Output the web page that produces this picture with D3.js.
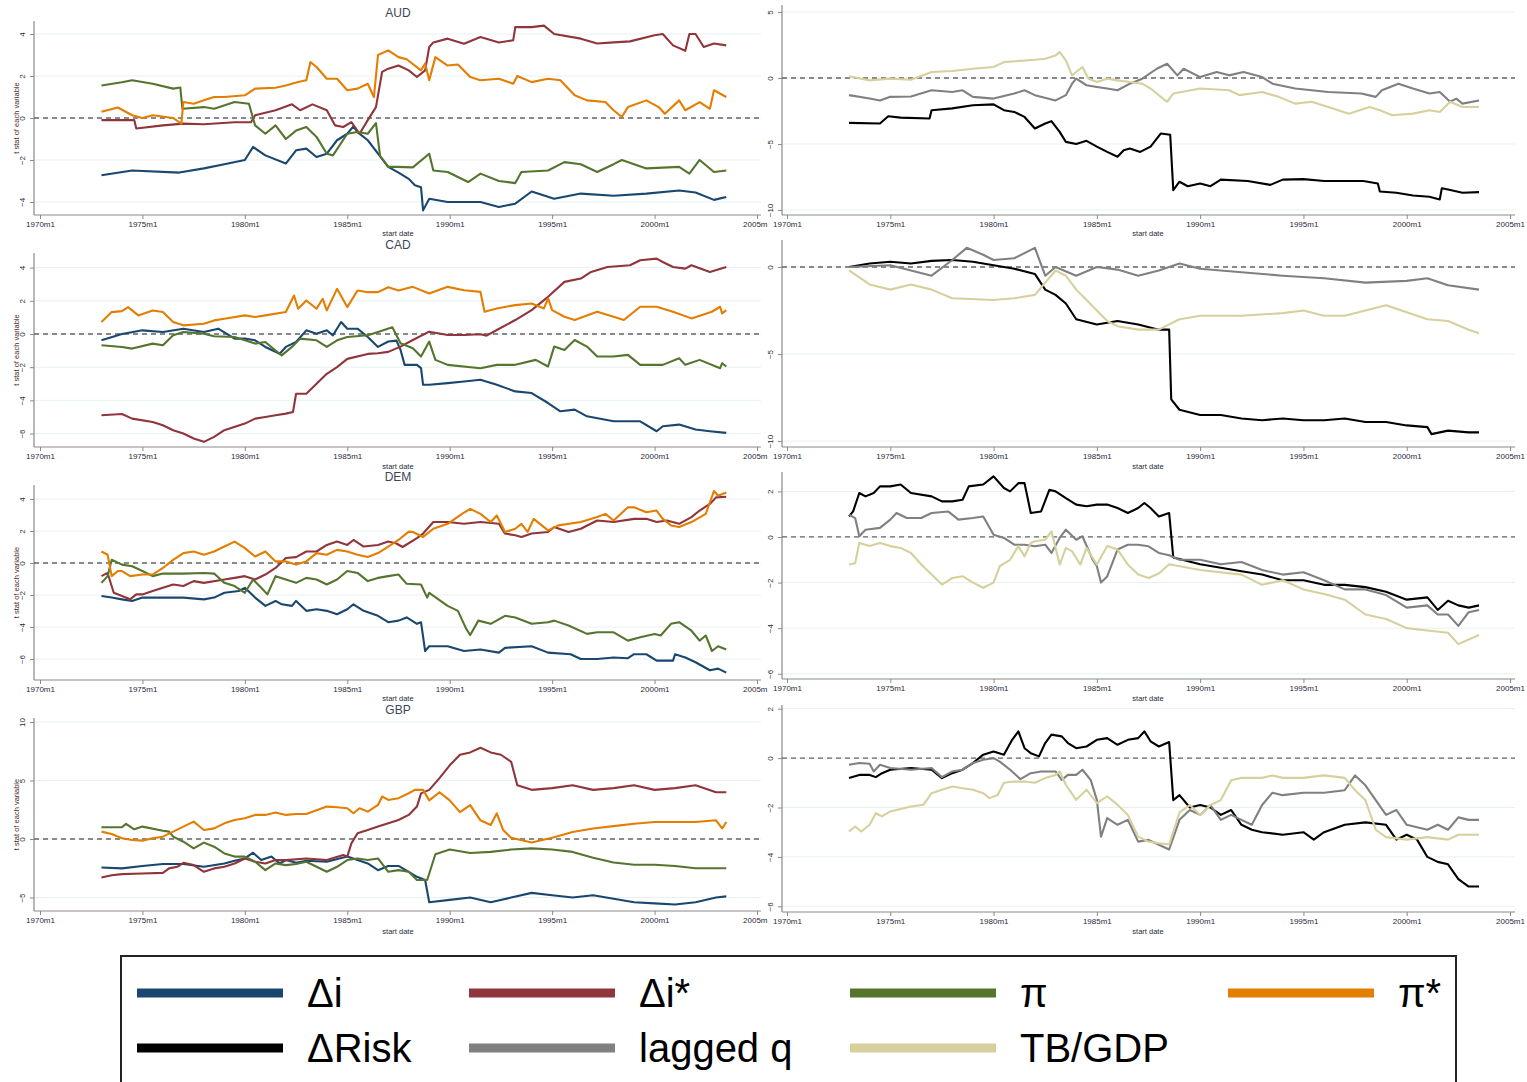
<!DOCTYPE html>
<html>
<head>
<meta charset="utf-8">
<script src="https://cdn.jsdelivr.net/npm/d3@7"></script>
<style>
  html, body { margin: 0; padding: 0; background: #fff; }
  svg { display: block; font-family: "Liberation Sans", Arial, sans-serif; }
</style>
</head>
<body>
<svg id="chart" width="1527" height="1082"></svg>
<script>
// ---------- tick labels ----------
const xTickYears = [1970, 1975, 1980, 1985, 1990, 1995, 2000, 2005];
const xTickLabels = ["1970m1", "1975m1", "1980m1", "1985m1", "1990m1", "1995m1", "2000m1", "2005m1"];
const currencies = ["AUD", "CAD", "DEM", "GBP"];
const leftTicks = { AUD: [-4, -2, 0, 2, 4], CAD: [-6, -4, -2, 0, 2, 4], DEM: [-6, -4, -2, 0, 2, 4], GBP: [-5, 0, 5, 10] };
const rightTicks = { AUD: [-10, -5, 0, 5], CAD: [-10, -5, 0], DEM: [-6, -4, -2, 0, 2], GBP: [-6, -4, -2, 0, 2] };

// ---------- series: [start date (decimal year), t statistic] ----------
// AUD
const audDi = [[1973,-2.73],[1974.5,-2.5],[1976.8,-2.6],[1978,-2.4],[1979,-2.2],[1980,-2.0],[1980.4,-1.38],[1981,-1.78],[1982,-2.17],[1982.5,-1.54],[1983,-1.46],[1983.5,-1.86],[1984,-1.7],[1984.5,-1.06],[1985,-0.75],[1985.3,-0.4],[1985.5,-0.67],[1986,-1.06],[1986.5,-1.7],[1987,-2.33],[1987.5,-2.6],[1988,-2.9],[1988.3,-3.2],[1988.6,-3.3],[1988.7,-4.4],[1989,-3.85],[1989.9,-4.0],[1991.5,-4.0],[1992.4,-4.24],[1993.2,-4.08],[1994,-3.5],[1995.1,-3.85],[1996.4,-3.6],[1998,-3.7],[1999.6,-3.6],[2001.2,-3.45],[2002,-3.55],[2002.9,-3.9],[2003.5,-3.76]];
const audDiStar = [[1973,-0.1],[1974.6,-0.1],[1974.7,-0.5],[1976,-0.35],[1977,-0.27],[1978,-0.3],[1979.5,-0.2],[1980.3,-0.2],[1980.5,0.13],[1981.5,0.37],[1982.3,0.65],[1982.7,0.37],[1983.3,0.65],[1984,0.37],[1984.4,-0.35],[1984.8,-0.43],[1985.2,-0.2],[1985.6,-0.75],[1986,-0.1],[1986.4,0.52],[1986.7,2.2],[1987,2.35],[1987.5,2.5],[1988,2.27],[1988.4,1.95],[1988.8,2.27],[1989,3.38],[1989.2,3.6],[1989.9,3.78],[1990.7,3.54],[1991.5,3.86],[1992.4,3.6],[1993.1,3.7],[1993.2,4.33],[1994,4.33],[1994.6,4.4],[1995.1,4.0],[1996.4,3.78],[1997.2,3.55],[1998,3.6],[1998.8,3.65],[2000,3.94],[2000.4,4.0],[2000.9,3.46],[2001.5,3.2],[2001.7,4.0],[2002,4.0],[2002.4,3.38],[2002.9,3.55],[2003.5,3.46]];
const audPi = [[1973,1.55],[1974,1.7],[1974.5,1.8],[1975.5,1.63],[1976.5,1.4],[1976.85,1.45],[1976.95,0.44],[1978,0.52],[1978.5,0.44],[1979.5,0.76],[1980.2,0.68],[1980.5,-0.35],[1981,-0.75],[1981.5,-0.35],[1982,-1.0],[1982.5,-0.6],[1983,-0.43],[1983.5,-0.9],[1984,-1.7],[1984.3,-1.78],[1985,-0.75],[1985.5,-0.67],[1986,-0.75],[1986.4,-0.24],[1986.6,-1.8],[1987,-2.33],[1987.4,-2.33],[1988.2,-2.35],[1989,-1.7],[1989.2,-2.5],[1989.9,-2.57],[1990.9,-3.05],[1991.5,-2.65],[1992.4,-3.0],[1993.2,-3.1],[1993.5,-2.57],[1994.8,-2.5],[1995.6,-2.1],[1996.4,-2.2],[1997.2,-2.57],[1998,-2.2],[1998.4,-2.0],[1999.6,-2.4],[2001.2,-2.33],[2001.7,-2.65],[2002.2,-2.0],[2002.9,-2.57],[2003.5,-2.5]];
const audPiStar = [[1973,0.3],[1973.8,0.5],[1974.5,0.13],[1975,0.0],[1975.5,0.13],[1976.5,0.0],[1976.9,-0.27],[1977,0.76],[1977.5,0.68],[1978,0.84],[1978.5,1.0],[1979,1.0],[1980,1.08],[1980.5,1.4],[1981.5,1.44],[1982,1.55],[1982.6,1.71],[1983,1.8],[1983.2,2.67],[1983.5,2.43],[1984,1.87],[1984.5,1.87],[1985,1.32],[1985.5,1.4],[1986,1.63],[1986.3,1.0],[1986.5,3.0],[1987,3.22],[1987.5,2.9],[1987.9,2.8],[1988.6,2.27],[1988.8,2.6],[1989,1.8],[1989.3,2.9],[1989.9,2.5],[1990.4,2.55],[1991,1.95],[1991.5,1.8],[1992.4,1.87],[1993.1,1.63],[1993.3,2.0],[1994,1.71],[1994.8,1.87],[1995.4,1.8],[1996.1,1.08],[1996.7,0.84],[1997.6,0.76],[1998,0.37],[1998.4,0.05],[1998.7,0.52],[1999.6,0.84],[2000.2,0.52],[2000.5,0.2],[2001.2,0.84],[2001.5,0.37],[2002.2,0.76],[2002.7,0.44],[2002.9,1.32],[2003.5,1.0]];
const audRisk = [[1973,-3.4],[1974.5,-3.45],[1974.9,-2.9],[1975.5,-3.0],[1976.9,-3.07],[1977,-2.44],[1978,-2.3],[1979,-2.07],[1980,-2.0],[1980.5,-2.44],[1981,-2.57],[1981.5,-2.95],[1982,-3.83],[1982.5,-3.45],[1982.8,-3.27],[1983.2,-4.08],[1983.5,-4.84],[1984,-5.0],[1984.5,-4.76],[1985,-5.2],[1985.5,-5.6],[1986,-5.97],[1986.3,-5.47],[1986.6,-5.34],[1987.1,-5.6],[1987.6,-5.2],[1988.1,-4.2],[1988.55,-4.3],[1988.7,-8.5],[1989,-7.86],[1989.4,-8.2],[1990,-8.0],[1990.5,-8.2],[1991,-7.7],[1992.3,-7.8],[1993.4,-8.1],[1994,-7.7],[1995,-7.66],[1996,-7.8],[1997.9,-7.8],[1998.6,-8.0],[1998.7,-8.6],[1999.5,-8.7],[2000.3,-8.9],[2001.1,-9.0],[2001.6,-9.2],[2001.7,-8.35],[2002,-8.45],[2002.7,-8.7],[2003.5,-8.65]];
const audLagQ = [[1973,-1.3],[1974,-1.56],[1974.5,-1.7],[1975,-1.43],[1976,-1.4],[1977,-0.93],[1978,-1.06],[1978.5,-0.93],[1979,-1.43],[1980,-1.56],[1981,-1.18],[1981.5,-0.93],[1982,-1.3],[1983,-1.7],[1983.5,-1.3],[1983.8,-0.43],[1984,-0.05],[1984.5,-0.55],[1985,-0.68],[1985.5,-0.8],[1986,-0.93],[1986.6,-0.43],[1987.2,-0.05],[1987.9,0.7],[1988.4,1.08],[1988.9,0.2],[1989.2,0.7],[1990,0.07],[1990.8,0.45],[1991.4,0.2],[1992.1,0.45],[1993,0.07],[1993.5,-0.43],[1994.6,-0.8],[1996.2,-1.06],[1997.8,-1.18],[1998.5,-1.43],[1998.8,-0.93],[1999.6,-0.43],[2000.3,-0.8],[2001.1,-1.18],[2001.6,-1.06],[2002.1,-1.8],[2002.4,-1.56],[2002.7,-1.94],[2003.5,-1.7]];
const audTbGdp = [[1973,0.13],[1974,-0.18],[1975,-0.05],[1976,-0.13],[1977,0.45],[1978,0.53],[1979,0.7],[1980,0.83],[1980.5,1.2],[1981.5,1.33],[1982,1.38],[1982.5,1.46],[1983,1.71],[1983.2,1.96],[1983.5,1.33],[1983.8,0.2],[1984,0.45],[1984.3,0.83],[1984.6,-0.05],[1985,-0.3],[1985.5,-0.05],[1986,-0.18],[1986.6,-0.3],[1987.2,-0.43],[1987.6,-0.8],[1988.2,-1.56],[1988.4,-1.8],[1988.7,-1.18],[1990,-0.8],[1991.4,-0.93],[1991.9,-1.3],[1993,-1.06],[1993.8,-1.43],[1994.6,-1.94],[1995.4,-1.8],[1996.2,-2.2],[1997.2,-2.7],[1998.2,-2.2],[1998.7,-2.45],[1999.3,-2.82],[2000.3,-2.7],[2001.1,-2.45],[2001.6,-2.57],[2002.1,-1.8],[2002.7,-2.2],[2003.5,-2.2]];

// CAD
const cadDi = [[1973,-0.38],[1974,0],[1975,0.22],[1976,0.12],[1977,0.32],[1978,0.12],[1978.7,0.32],[1979.5,-0.28],[1980,-0.28],[1980.5,-0.38],[1981,-0.78],[1981.7,-1.19],[1982,-0.78],[1982.5,-0.48],[1983,0.22],[1983.5,0.02],[1984,0.22],[1984.3,-0.08],[1984.7,0.72],[1985,0.32],[1985.5,0.32],[1986,-0.18],[1986.5,-0.78],[1987,-0.45],[1987.4,-0.4],[1987.6,-0.96],[1987.8,-1.86],[1988.4,-1.86],[1988.6,-2.06],[1988.7,-3.06],[1989,-3.06],[1989.9,-2.96],[1990.7,-2.86],[1991.5,-2.76],[1992.3,-3.06],[1993.2,-3.46],[1994,-3.56],[1994.8,-4.16],[1995.4,-4.66],[1996.1,-4.56],[1996.7,-4.96],[1998,-5.26],[1999.3,-5.26],[2000.1,-5.86],[2000.4,-5.56],[2001.2,-5.46],[2002,-5.76],[2002.7,-5.86],[2003.5,-5.96]];
const cadDiStar = [[1973,-4.9],[1974,-4.82],[1974.5,-5.1],[1975.5,-5.3],[1976,-5.5],[1976.5,-5.8],[1977,-6.0],[1977.5,-6.3],[1978,-6.5],[1978.5,-6.2],[1979,-5.8],[1980,-5.4],[1980.5,-5.1],[1981,-5.0],[1981.5,-4.9],[1982,-4.8],[1982.35,-4.7],[1982.5,-3.6],[1983,-3.6],[1983.5,-3.0],[1984,-2.4],[1984.5,-2.0],[1985,-1.5],[1986,-1.2],[1986.5,-1.16],[1987,-1.08],[1987.6,-0.76],[1988.2,-0.36],[1989,0.14],[1989.9,-0.06],[1990.7,-0.06],[1991.5,-0.02],[1991.8,-0.1],[1992.3,0.24],[1993.2,0.84],[1994,1.44],[1994.8,2.24],[1995.6,3.14],[1996.4,3.34],[1996.9,3.74],[1997.7,4.04],[1998.8,4.14],[1999.3,4.44],[2000.1,4.54],[2000.4,4.34],[2000.9,4.04],[2001.5,3.94],[2001.8,4.14],[2002.7,3.74],[2003.5,4.04]];
const cadPi = [[1973,-0.68],[1974,-0.78],[1974.5,-0.88],[1975.5,-0.58],[1976,-0.68],[1976.5,-0.08],[1977,0.12],[1978,0.02],[1978.5,-0.14],[1979.5,-0.18],[1980.5,-0.58],[1981,-0.48],[1981.5,-1.0],[1981.8,-1.29],[1982.3,-0.78],[1982.7,-0.28],[1983.5,-0.38],[1984,-0.78],[1984.5,-0.38],[1985,-0.18],[1986,-0.08],[1986.5,0.12],[1987.2,0.4],[1987.6,-0.56],[1988.2,-0.86],[1988.6,-1.36],[1989,-0.46],[1989.3,-1.56],[1989.9,-1.86],[1991.5,-2.06],[1992.3,-1.86],[1993.2,-1.86],[1994.2,-1.56],[1994.8,-1.96],[1995.1,-0.76],[1995.6,-0.96],[1996.1,-0.36],[1996.7,-0.76],[1997.2,-1.36],[1998,-1.36],[1998.7,-1.26],[1999.3,-1.86],[2000.4,-1.86],[2001.2,-1.46],[2001.5,-1.86],[2002.2,-1.56],[2003.2,-2.06],[2003.3,-1.76],[2003.5,-1.96]];
const cadPiStar = [[1973,0.72],[1973.5,1.32],[1974,1.38],[1974.3,1.62],[1974.8,1.12],[1975.5,1.42],[1976,1.32],[1976.5,0.72],[1977,0.52],[1978,0.62],[1978.5,0.82],[1979,0.92],[1980,1.12],[1980.5,1.02],[1981,1.12],[1982,1.32],[1982.4,2.32],[1982.6,1.52],[1983,2.02],[1983.5,1.52],[1983.8,2.12],[1984,1.42],[1984.5,2.72],[1985,1.62],[1985.5,2.62],[1986,2.52],[1986.5,2.52],[1987,2.82],[1987.5,2.62],[1988.2,2.84],[1989,2.44],[1989.9,2.84],[1990.7,2.64],[1991.5,2.54],[1991.7,1.34],[1992.3,1.54],[1993.2,1.74],[1994,1.84],[1994.6,1.54],[1994.8,2.14],[1995,1.44],[1995.6,1.04],[1996.1,0.84],[1997.2,1.34],[1998,1.04],[1998.5,0.84],[1999.3,1.64],[2000.1,1.64],[2000.9,1.34],[2001.8,0.94],[2002.8,1.34],[2003.2,1.64],[2003.3,1.24],[2003.5,1.44]];
const cadRisk = [[1973,0],[1974,0.2],[1975,0.3],[1976,0.2],[1977,0.35],[1978,0.4],[1979,0.3],[1980,0.1],[1981,-0.1],[1982,-0.4],[1982.5,-1.3],[1983,-1.6],[1983.5,-2.1],[1984,-3.0],[1985,-3.3],[1986,-3.1],[1987,-3.3],[1988,-3.6],[1988.5,-3.6],[1988.6,-7.6],[1989,-8.2],[1990,-8.5],[1991,-8.5],[1992,-8.7],[1993,-8.8],[1994,-8.7],[1995,-8.8],[1996,-8.8],[1997,-8.7],[1998,-8.9],[1999,-8.9],[2000,-9.1],[2001,-9.2],[2001.2,-9.6],[2002,-9.4],[2003,-9.5],[2003.5,-9.5]];
const cadLagQ = [[1973,0],[1975,0.1],[1977,-0.5],[1978,0.4],[1978.7,1.1],[1979.5,0.7],[1980,0.4],[1981,0.5],[1982,1.1],[1982.5,-0.5],[1983,0],[1984,-0.5],[1985,0],[1986,-0.15],[1987,-0.5],[1988,-0.2],[1989,0.2],[1990,-0.1],[1992,-0.3],[1994,-0.5],[1996,-0.65],[1998,-0.9],[2000,-0.8],[2001,-0.65],[2002,-1.05],[2003.5,-1.3]];
const cadTbGdp = [[1973,-0.2],[1974,-1.0],[1975,-1.3],[1976,-1.0],[1977,-1.3],[1978,-1.8],[1980,-1.9],[1981,-1.8],[1982,-1.6],[1983,-0.2],[1983.5,-0.5],[1984,-1.3],[1984.5,-1.9],[1985,-2.5],[1985.5,-3.1],[1986,-3.4],[1987,-3.6],[1988,-3.6],[1988.5,-3.3],[1989,-3.0],[1990,-2.8],[1992,-2.8],[1994,-2.65],[1995,-2.5],[1996,-2.8],[1997,-2.8],[1998,-2.5],[1999,-2.2],[2000,-2.6],[2001,-3.0],[2002,-3.1],[2003,-3.6],[2003.5,-3.8]];

// DEM
const demDi = [[1973,-2.06],[1973.5,-2.16],[1974,-2.27],[1974.5,-2.37],[1975,-2.16],[1976,-2.16],[1977,-2.16],[1978,-2.27],[1978.5,-2.16],[1979,-1.86],[1979.7,-1.75],[1980,-1.55],[1980.5,-2.16],[1981,-2.68],[1981.5,-2.37],[1981.8,-2.58],[1982.3,-2.68],[1982.5,-2.37],[1983,-2.99],[1983.5,-2.89],[1984,-2.99],[1984.5,-3.2],[1985,-2.89],[1985.3,-2.58],[1985.8,-2.99],[1986.5,-3.3],[1987,-3.7],[1987.5,-3.6],[1987.9,-3.4],[1988.4,-3.8],[1988.6,-3.7],[1988.8,-5.5],[1989,-5.2],[1989.9,-5.2],[1990.7,-5.5],[1991.5,-5.4],[1992.4,-5.6],[1992.7,-5.3],[1994,-5.2],[1994.8,-5.6],[1995.9,-5.7],[1996.4,-6.0],[1997.2,-6.0],[1998,-5.9],[1998.7,-5.95],[1999,-5.7],[1999.6,-5.7],[2000.1,-6.1],[2000.9,-6.1],[2001,-5.7],[2001.5,-5.9],[2002,-6.2],[2002.7,-6.7],[2003.1,-6.6],[2003.5,-6.85]];
const demDiStar = [[1973,-0.82],[1973.3,-0.62],[1973.6,-1.86],[1974,-2.06],[1974.4,-2.27],[1974.7,-1.96],[1975,-1.96],[1975.5,-1.75],[1976,-1.55],[1976.5,-1.34],[1977,-1.44],[1977.5,-1.13],[1978,-1.24],[1979,-1.03],[1979.5,-0.93],[1980,-0.82],[1980.5,-1.03],[1981,-0.72],[1981.5,-0.31],[1982,0.31],[1982.5,0.37],[1983,0.72],[1983.5,0.72],[1984,1.13],[1984.5,1.34],[1985,1.13],[1985.3,1.44],[1985.8,1.03],[1986.5,1.13],[1987,1.34],[1987.4,1.22],[1987.7,1.0],[1988.4,1.55],[1988.7,1.84],[1989.2,2.56],[1989.9,2.56],[1990.7,2.45],[1991.5,2.56],[1992.4,2.45],[1992.7,1.84],[1993.2,1.73],[1993.5,1.63],[1994,1.84],[1994.8,1.94],[1995.1,2.25],[1995.8,1.94],[1996.4,2.14],[1997.2,2.66],[1998,2.56],[1999,2.76],[1999.6,2.76],[2000.1,2.56],[2000.6,2.66],[2001.2,2.45],[2001.8,2.87],[2002.2,3.28],[2002.7,3.69],[2003,4.1],[2003.5,4.14]];
const demPi = [[1973,-1.24],[1973.3,-0.82],[1973.5,0.2],[1974,-0.1],[1974.5,-0.2],[1975,-0.5],[1975.5,-0.82],[1976,-0.66],[1977,-0.66],[1978,-0.62],[1978.5,-0.66],[1979,-1.24],[1979.5,-1.44],[1980,-1.86],[1980.4,-1.03],[1980.8,-1.55],[1981.1,-1.96],[1981.5,-0.82],[1982,-1.03],[1982.5,-1.24],[1983,-0.93],[1983.5,-1.03],[1984,-1.34],[1984.5,-1.03],[1985,-0.5],[1985.5,-0.62],[1986,-1.13],[1986.5,-0.93],[1987,-0.82],[1987.5,-0.72],[1987.9,-1.3],[1988.6,-1.34],[1988.9,-2.16],[1989,-1.86],[1989.9,-2.68],[1990.4,-2.99],[1990.8,-4.1],[1991,-4.5],[1991.4,-3.6],[1992,-3.8],[1992.7,-3.3],[1993.2,-3.4],[1994,-3.8],[1994.8,-3.7],[1995.1,-3.6],[1995.8,-3.9],[1996.7,-4.43],[1997.2,-4.33],[1998,-4.33],[1998.7,-4.85],[1999.3,-4.64],[2000,-4.43],[2000.3,-4.53],[2000.8,-3.8],[2001.2,-3.7],[2001.8,-4.23],[2002.2,-4.85],[2002.5,-4.53],[2002.8,-5.5],[2003.1,-5.2],[2003.5,-5.4]];
const demPiStar = [[1973,0.72],[1973.3,0.52],[1973.5,-0.82],[1973.8,-0.5],[1974,-0.5],[1974.4,-0.82],[1975,-0.72],[1975.5,-0.72],[1976,-0.31],[1976.5,0.2],[1977,0.62],[1977.5,0.72],[1978,0.52],[1978.5,0.72],[1979,1.03],[1979.5,1.34],[1980,0.93],[1980.5,0.41],[1981,0.72],[1981.5,0.1],[1982,0.1],[1982.5,-0.1],[1983,0.1],[1983.5,0.62],[1984,0.52],[1984.5,0.82],[1985,0.72],[1985.5,0.52],[1986,0.37],[1986.5,0.62],[1987,1.03],[1987.5,1.44],[1988,1.96],[1988.2,1.94],[1988.7,1.63],[1989.2,2.14],[1989.9,2.45],[1990.6,3.07],[1991,3.38],[1991.5,3.07],[1992,2.56],[1992.3,2.97],[1992.7,1.94],[1993.2,2.14],[1993.5,2.45],[1993.8,1.94],[1994.1,2.76],[1994.8,2.04],[1995.3,2.35],[1996.4,2.56],[1997.2,2.87],[1997.6,3.07],[1998,2.66],[1998.7,3.48],[1999,3.48],[1999.6,3.17],[2000.1,3.28],[2000.4,2.76],[2000.8,2.35],[2001.2,2.25],[2001.8,2.56],[2002.5,3.07],[2002.9,4.5],[2003.1,4.2],[2003.5,4.41]];
const demRisk = [[1973,0.9],[1973.2,1.12],[1973.5,1.93],[1973.8,1.78],[1974.2,1.93],[1974.5,2.22],[1975,2.22],[1975.5,2.3],[1976,1.93],[1977,1.78],[1977.5,1.56],[1978,1.56],[1978.5,1.63],[1978.8,2.22],[1979.5,2.3],[1980,2.66],[1980.5,2.15],[1980.8,2.0],[1981.2,2.36],[1981.5,2.36],[1981.8,1.05],[1982.3,1.12],[1982.7,2.07],[1983,2.0],[1983.5,1.7],[1984,1.42],[1984.5,1.35],[1985,1.42],[1985.5,1.42],[1986,1.27],[1986.5,1.05],[1987,1.27],[1987.3,1.49],[1987.6,1.27],[1988,0.9],[1988.5,1.05],[1988.7,-0.9],[1990,-1.2],[1991,-1.35],[1992,-1.5],[1993,-1.65],[1994,-1.9],[1995,-1.9],[1996,-2.1],[1997,-2.1],[1998,-2.2],[1999,-2.4],[2000,-2.75],[2001,-2.65],[2001.5,-3.2],[2002,-2.8],[2002.5,-3.0],[2003,-3.1],[2003.5,-3.0]];
const demLagQ = [[1973,0.98],[1973.3,0.83],[1973.5,0.03],[1973.8,0.32],[1974.5,0.4],[1975,0.76],[1975.3,1.05],[1975.8,0.83],[1976.5,0.83],[1977,1.05],[1977.8,1.12],[1978.3,0.76],[1979,0.83],[1979.5,0.9],[1980,0.1],[1980.5,-0.04],[1981,-0.34],[1981.5,-0.34],[1982,-0.41],[1982.5,-0.34],[1982.8,-0.7],[1983.2,-0.04],[1983.5,0.32],[1984,-0.12],[1984.3,0.03],[1984.8,-1.0],[1985,-1.28],[1985.2,-2.0],[1985.5,-1.73],[1986,-0.55],[1986.5,-0.34],[1987,-0.34],[1987.5,-0.41],[1988,-0.7],[1988.5,-0.8],[1989,-1.0],[1990,-1.0],[1991,-1.2],[1992,-1.1],[1993,-1.45],[1994,-1.65],[1995,-1.55],[1996,-1.9],[1997,-2.3],[1998,-2.3],[1999,-2.55],[2000,-3.1],[2001,-3.0],[2001.5,-3.4],[2002,-3.4],[2002.5,-3.9],[2003,-3.3],[2003.5,-3.2]];
const demTbGdp = [[1973,-1.21],[1973.3,-1.15],[1973.5,-0.26],[1974,-0.4],[1974.5,-0.26],[1975,-0.4],[1975.5,-0.48],[1976,-0.7],[1976.5,-1.21],[1977,-1.65],[1977.5,-2.09],[1978,-1.8],[1978.5,-1.72],[1979,-2.0],[1979.5,-2.23],[1980,-2.0],[1980.3,-1.28],[1980.8,-1.0],[1981.2,-0.4],[1981.5,-0.85],[1981.8,-0.26],[1982,-0.19],[1982.5,-0.12],[1982.8,0.25],[1983.2,-1.21],[1983.5,-0.48],[1983.8,-0.63],[1984.2,-1.21],[1984.5,-0.48],[1985,-1.21],[1985.5,-0.4],[1986,-0.55],[1986.5,-1.21],[1987,-1.65],[1987.5,-1.8],[1988,-1.6],[1988.5,-1.2],[1990,-1.45],[1992,-1.65],[1993,-2.1],[1994,-1.9],[1995,-2.3],[1996,-2.5],[1997,-2.75],[1998,-3.4],[1999,-3.6],[2000,-4.0],[2001,-4.1],[2002,-4.2],[2002.5,-4.7],[2003,-4.5],[2003.5,-4.3]];

// GBP
const gbpDi = [[1973,-2.43],[1974,-2.51],[1975,-2.31],[1976,-2.14],[1977,-2.14],[1978,-2.37],[1979,-2.09],[1979.5,-1.86],[1980,-1.66],[1980.4,-1.17],[1980.8,-1.8],[1981.3,-1.5],[1981.7,-2.09],[1982,-1.8],[1982.5,-2.03],[1983,-1.86],[1984,-1.94],[1985,-1.5],[1985.5,-1.8],[1986,-2.09],[1986.5,-2.66],[1987,-2.31],[1987.5,-2.3],[1988,-2.8],[1988.4,-3.23],[1988.8,-3.5],[1989,-5.4],[1990,-5.2],[1991,-5.0],[1992,-5.4],[1993,-5.0],[1994,-4.6],[1995,-4.8],[1996,-5.0],[1997,-4.8],[1998,-5.1],[1999,-5.4],[2000,-5.5],[2001,-5.6],[2002,-5.4],[2003,-5.0],[2003.5,-4.9]];
const gbpDiStar = [[1973,-3.29],[1973.5,-3.09],[1974,-3.0],[1975,-2.94],[1976,-2.89],[1976.3,-2.51],[1976.7,-2.37],[1977,-2.03],[1977.5,-2.23],[1978,-2.8],[1978.5,-2.51],[1979,-2.37],[1979.5,-2.09],[1980,-1.66],[1980.5,-1.94],[1981,-2.09],[1981.5,-1.8],[1982,-1.8],[1983,-1.66],[1984,-1.8],[1984.8,-1.37],[1985,-1.5],[1985.2,-0.37],[1985.5,0.49],[1986,0.77],[1986.5,1.06],[1987,1.34],[1987.5,1.63],[1988,2.06],[1988.4,2.77],[1988.6,3.9],[1989,4.2],[1989.5,5.2],[1990,6.3],[1990.5,7.2],[1991,7.4],[1991.5,7.8],[1992,7.4],[1992.5,7.2],[1993,6.6],[1993.3,4.6],[1994,4.2],[1995,4.35],[1996,4.6],[1997,4.2],[1998,4.35],[1999,4.6],[2000,4.2],[2001,4.35],[2002,4.6],[2003,4.0],[2003.5,4.0]];
const gbpPi = [[1973,1.0],[1974,1.0],[1974.2,1.29],[1974.6,0.83],[1975,1.06],[1976,0.71],[1976.3,0.63],[1976.5,0.2],[1977,-0.23],[1977.5,-0.8],[1978,-0.31],[1978.5,-0.66],[1979,-1.23],[1979.5,-1.5],[1980,-1.5],[1980.5,-1.94],[1981,-2.66],[1981.5,-2.09],[1982,-2.23],[1982.5,-2.14],[1983,-1.94],[1983.5,-2.37],[1984,-2.8],[1984.5,-2.37],[1985,-1.8],[1985.5,-1.66],[1986,-1.8],[1986.5,-1.66],[1987,-2.8],[1987.5,-2.66],[1988,-2.8],[1988.4,-3.5],[1988.9,-3.5],[1989.3,-1.3],[1990,-0.9],[1991,-1.2],[1992,-1.1],[1993,-0.9],[1994,-0.8],[1995,-0.9],[1996,-1.1],[1997,-1.6],[1998,-2.0],[1999,-2.2],[2000,-2.2],[2001,-2.3],[2002,-2.5],[2003,-2.5],[2003.5,-2.5]];
const gbpPiStar = [[1973,0.63],[1973.5,0.43],[1974,0.06],[1974.5,-0.09],[1975,-0.14],[1975.5,0.06],[1976,0.2],[1976.5,0.63],[1977,1.06],[1977.5,1.49],[1978,0.77],[1978.5,0.91],[1979,1.34],[1979.5,1.63],[1980,1.77],[1980.5,2.06],[1981,2.06],[1981.5,2.26],[1982,2.06],[1982.5,2.14],[1983,2.14],[1984,2.77],[1984.5,2.71],[1985,2.63],[1985.3,2.2],[1985.6,2.63],[1986,2.34],[1986.5,2.91],[1986.7,3.63],[1987,3.34],[1987.5,3.49],[1988,3.91],[1988.3,4.2],[1988.7,4.2],[1989,3.3],[1989.5,4.0],[1990,3.3],[1990.5,2.3],[1991,2.9],[1991.5,1.6],[1992,1.2],[1992.3,2.2],[1992.6,0.8],[1993,0.1],[1994,-0.3],[1995,0.1],[1996,0.6],[1997,0.9],[1998,1.1],[1999,1.3],[2000,1.45],[2001,1.45],[2002,1.45],[2003,1.6],[2003.3,0.9],[2003.5,1.45]];
const gbpRisk = [[1973,-0.81],[1973.5,-0.68],[1974,-0.68],[1974.3,-0.77],[1974.6,-0.61],[1975,-0.47],[1976,-0.4],[1977,-0.47],[1977.5,-0.81],[1978,-0.61],[1978.5,-0.47],[1979,-0.2],[1979.5,0.14],[1980,0.27],[1980.5,0.14],[1980.9,0.74],[1981.2,1.08],[1981.5,0.4],[1981.8,0.2],[1982.2,0.07],[1982.5,0.61],[1982.8,0.95],[1983.3,0.88],[1983.6,0.61],[1984,0.4],[1984.5,0.47],[1985,0.74],[1985.5,0.81],[1986,0.54],[1986.5,0.74],[1987,0.81],[1987.3,1.08],[1987.6,0.68],[1988,0.47],[1988.5,0.65],[1988.7,-1.7],[1989,-1.5],[1989.5,-2.0],[1990,-1.9],[1990.5,-2.0],[1991,-2.3],[1991.5,-2.1],[1992,-2.7],[1992.5,-2.9],[1993,-3.0],[1994,-3.1],[1995,-3.0],[1995.5,-3.3],[1996,-3.0],[1997,-2.7],[1998,-2.6],[1999,-2.7],[1999.5,-3.3],[2000,-3.1],[2000.5,-3.3],[2001,-4.0],[2001.5,-4.2],[2002,-4.3],[2002.5,-4.9],[2003,-5.2],[2003.5,-5.2]];
const gbpLagQ = [[1973,-0.27],[1973.5,-0.2],[1974,-0.23],[1974.2,-0.54],[1974.5,-0.27],[1975,-0.4],[1976,-0.47],[1977,-0.4],[1977.5,-0.77],[1978,-0.54],[1978.5,-0.47],[1979,-0.2],[1979.5,-0.07],[1980,0],[1980.3,-0.14],[1980.8,-0.47],[1981.3,-0.85],[1981.8,-0.61],[1982.3,-0.54],[1983,-0.54],[1983.3,-0.88],[1983.6,-0.68],[1984,-0.68],[1984.3,-0.47],[1984.7,-0.88],[1985,-1.69],[1985.2,-3.18],[1985.5,-2.43],[1986,-2.7],[1986.5,-2.5],[1987,-3.38],[1987.5,-3.31],[1988,-3.51],[1988.5,-3.7],[1989,-2.5],[1989.5,-2.1],[1990,-2.3],[1990.5,-1.9],[1991,-2.5],[1991.5,-2.3],[1992,-2.5],[1992.5,-2.7],[1993,-1.9],[1993.5,-1.4],[1994,-1.5],[1995,-1.4],[1996,-1.4],[1997,-1.3],[1997.5,-0.7],[1998,-1.1],[1998.5,-1.7],[1999,-2.3],[1999.5,-2.1],[2000,-2.7],[2001,-2.9],[2001.5,-2.7],[2002,-2.9],[2002.5,-2.4],[2003,-2.5],[2003.5,-2.5]];
const gbpTbGdp = [[1973,-2.97],[1973.3,-2.77],[1973.6,-2.97],[1974,-2.7],[1974.3,-2.23],[1974.6,-2.36],[1975,-2.16],[1976,-1.96],[1976.6,-1.89],[1977,-1.42],[1977.5,-1.28],[1978,-1.15],[1978.5,-1.22],[1979,-1.28],[1979.5,-1.42],[1979.8,-1.62],[1980.2,-1.49],[1980.5,-1.0],[1981,-0.95],[1981.5,-0.95],[1982,-1.0],[1982.5,-0.81],[1983,-0.68],[1983.2,-0.54],[1983.5,-1.08],[1984,-1.69],[1984.5,-1.28],[1985,-1.82],[1985.5,-1.55],[1986,-1.89],[1986.5,-2.3],[1987,-3.18],[1987.5,-3.38],[1988,-3.45],[1988.5,-3.5],[1989,-2.2],[1989.5,-1.9],[1990,-2.3],[1990.5,-1.9],[1991,-1.7],[1991.5,-0.9],[1992,-0.8],[1993,-0.8],[1993.5,-0.7],[1994,-0.8],[1995,-0.8],[1996,-0.7],[1997,-0.8],[1997.5,-1.3],[1998,-1.7],[1998.5,-2.9],[1999,-3.2],[2000,-3.3],[2001,-3.2],[2002,-3.3],[2002.5,-3.1],[2003,-3.1],[2003.5,-3.1]];

// ---------- legend entries ----------
const seriesNames = ["\u0394i", "\u0394i*", "\u03c0", "\u03c0*", "\u0394Risk", "lagged q", "TB/GDP"];
const seriesColors = ["#1a476f", "#90353b", "#55752f", "#e37e00", "#000000", "#808080", "#d6d09c"];

const leftData = {
  AUD: [audDi, audDiStar, audPi, audPiStar],
  CAD: [cadDi, cadDiStar, cadPi, cadPiStar],
  DEM: [demDi, demDiStar, demPi, demPiStar],
  GBP: [gbpDi, gbpDiStar, gbpPi, gbpPiStar]
};
const rightData = {
  AUD: [audRisk, audLagQ, audTbGdp],
  CAD: [cadRisk, cadLagQ, cadTbGdp],
  DEM: [demRisk, demLagQ, demTbGdp],
  GBP: [gbpRisk, gbpLagQ, gbpTbGdp]
};

// ---------- layout ----------
const svg = d3.select("#chart");
const rowTop = { AUD: 0, CAD: 233, DEM: 465, GBP: 698 };
// per-row plot boxes (pixel extents) and value domains
const leftBox = {
  AUD: { top: 21, bot: 215, lo: -4.62, hi: 4.62 },
  CAD: { top: 253, bot: 447, lo: -6.81, hi: 4.88 },
  DEM: { top: 485, bot: 680, lo: -7.31, hi: 4.875 },
  GBP: { top: 718, bot: 911, lo: -6.15, hi: 10.34 }
};
const rightBox = {
  AUD: { top: 5, bot: 215, lo: -10.38, hi: 5.53 },
  CAD: { top: 240, bot: 447, lo: -10.34, hi: 1.55 },
  DEM: { top: 472, bot: 679, lo: -6.23, hi: 2.85 },
  GBP: { top: 705, bot: 912, lo: -6.23, hi: 2.15 }
};
const cols = {
  left: { axisX: 34, right: 761, x0: 40, x1: 757, labelX: 26, clip: 768, xTitle: 398 },
  right: { axisX: 782, right: 1515, x0: 787, x1: 1510, labelX: 774, clip: 1527, xTitle: 1148 }
};

const defs = svg.append("defs");
defs.append("clipPath").attr("id", "clipLeft").append("rect").attr("x", 0).attr("y", 0).attr("width", 768).attr("height", 1082);

function panel(cur, side) {
  const c = cols[side];
  const b = side === "left" ? leftBox[cur] : rightBox[cur];
  const ticks = side === "left" ? leftTicks[cur] : rightTicks[cur];
  const data = side === "left" ? leftData[cur] : rightData[cur];
  const colors = side === "left" ? seriesColors.slice(0, 4) : seriesColors.slice(4);

  const x = d3.scaleLinear().domain([1970, 2005]).range([c.x0, c.x1]);
  const y = d3.scaleLinear().domain([b.lo, b.hi]).range([b.bot, b.top]);

  const g = svg.append("g");
  if (side === "left") g.attr("clip-path", "url(#clipLeft)");

  // horizontal grid
  g.selectAll(".grid").data(ticks).join("line")
    .attr("x1", c.axisX).attr("x2", c.right)
    .attr("y1", d => y(d)).attr("y2", d => y(d))
    .attr("stroke", "#e8f0f1").attr("stroke-width", 1);

  // y axis
  const yAxis = d3.axisLeft(y).tickValues(ticks).tickSize(4).tickFormat(d3.format("d"));
  const ya = g.append("g").attr("transform", `translate(${c.axisX},0)`).call(yAxis);
  ya.select(".domain").attr("d", `M0,${b.top}V${b.bot}`).attr("stroke", "#8a8a8a").attr("stroke-width", 1.2);
  ya.selectAll(".tick line").attr("stroke", "#8a8a8a");
  ya.selectAll(".tick text")
    .attr("x", null).attr("dy", null)
    .attr("transform", "translate(-9,0) rotate(-90)")
    .attr("text-anchor", "middle")
    .attr("fill", "#2a2a3a").attr("font-size", 8)
    .attr("font-family", "Liberation Sans, Arial, sans-serif");

  // x axis
  const xAxis = d3.axisBottom(x).tickValues(xTickYears).tickSize(4)
    .tickFormat((d, i) => xTickLabels[i]);
  const xa = g.append("g").attr("transform", `translate(0,${b.bot})`).call(xAxis);
  xa.select(".domain").attr("d", `M${c.axisX},0H${c.right}`).attr("stroke", "#8a8a8a").attr("stroke-width", 1.2);
  xa.selectAll(".tick line").attr("stroke", "#8a8a8a");
  xa.selectAll(".tick text").attr("y", 6).attr("dy", "0.71em")
    .attr("fill", "#2a2a3a").attr("font-size", 8)
    .attr("font-family", "Liberation Sans, Arial, sans-serif");

  // x title
  g.append("text").attr("x", c.xTitle).attr("y", rowTop[cur] + 236)
    .attr("text-anchor", "middle").attr("font-size", 7.5).attr("fill", "#2a2a3a")
    .text("start date");

  // zero reference
  g.append("line").attr("x1", c.axisX).attr("x2", c.right)
    .attr("y1", y(0)).attr("y2", y(0))
    .attr("stroke", "#666").attr("stroke-width", 1.3).attr("stroke-dasharray", "5,4");

  // series
  const line = d3.line().x(d => x(d[0])).y(d => y(d[1]));
  data.forEach((s, i) => {
    g.append("path").datum(s).attr("d", line)
      .attr("fill", "none").attr("stroke", colors[i]).attr("stroke-width", 2.1)
      .attr("stroke-linejoin", "round");
  });

  if (side === "left") {
    svg.append("text").attr("x", 398).attr("y", rowTop[cur] + (cur === "AUD" ? 17 : 16))
      .attr("text-anchor", "middle").attr("font-size", 12).attr("fill", "#3a4656").text(cur);
    svg.append("text")
      .attr("transform", `translate(19,${(b.top + b.bot) / 2}) rotate(-90)`)
      .attr("text-anchor", "middle").attr("font-size", 7.5).attr("fill", "#4a2a2a")
      .text("t stat of each variable");
  }
}

currencies.forEach(cur => { panel(cur, "left"); panel(cur, "right"); });

// ---------- legend ----------
const lg = svg.append("g");
lg.append("rect").attr("x", 121).attr("y", 956).attr("width", 1335).attr("height", 140)
  .attr("fill", "#fff").attr("stroke", "#222").attr("stroke-width", 2);
const legendCols = [137, 469, 850, 1228];
const legendRows = [993, 1048];
seriesNames.forEach((name, i) => {
  const col = i % 4, row = Math.floor(i / 4);
  const lx = legendCols[col], ly = legendRows[row];
  lg.append("line").attr("x1", lx).attr("x2", lx + 146).attr("y1", ly).attr("y2", ly)
    .attr("stroke", seriesColors[i]).attr("stroke-width", 9);
  lg.append("text").attr("x", lx + 170).attr("y", ly + 14)
    .attr("font-size", 40).attr("fill", "#000").text(name);
});
</script>
</body>
</html>
